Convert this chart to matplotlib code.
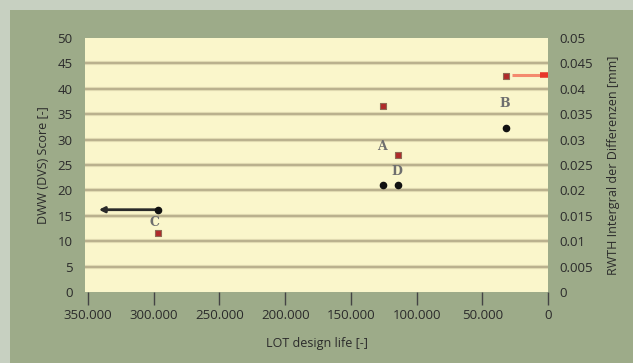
import matplotlib.pyplot as plt
from matplotlib.patches import Rectangle

# Data
red_x = [296700, 125200, 114100, 32000]
red_y = [11.6, 36.7, 26.9, 42.5]
black_x = [296700, 125200, 114100, 32000]
black_y = [16.1, 21.0, 21.0, 32.3]
label_text = ['C', 'A', 'D', 'B']
label_x = [299500, 126500, 114800, 33000]
label_y = [13.6, 28.7, 23.7, 37.2]
black_arrow = (296000, 343900, 16.2)
red_arrow = (27500, 0, 42.8)

x_ticks = [350000, 300000, 250000, 200000, 150000, 100000, 50000, 0]
x_tick_labels = ['350.000', '300.000', '250.000', '200.000', '150.000', '100.000', '50.000', '0']
y_ticks = [0, 5, 10, 15, 20, 25, 30, 35, 40, 45, 50]
y2_ticks = [0, 0.005, 0.01, 0.015, 0.02, 0.025, 0.03, 0.035, 0.04, 0.045, 0.05]
y2_tick_labels = ['0', '0.005', '0.01', '0.015', '0.02', '0.025', '0.03', '0.035', '0.04', '0.045', '0.05']

plt.rcParams['font.family'] = ['Open Sans', 'DejaVu Sans']
text_col = '#2b2b2b'

fig = plt.figure(figsize=(6.33, 3.63), dpi=100)
fig.patch.set_facecolor('#c7d0c1')
fig.patches.append(Rectangle((10 / 633, 0), 1, 1 - 10 / 363, transform=fig.transFigure,
                             facecolor='#9dab89', edgecolor='none', zorder=-5))

ax = fig.add_axes([85 / 633, 1 - 292 / 363, 463 / 633, 254 / 363])
ax.set_facecolor('#faf6cb')
ax.set_xlim(352300, 0)
ax.set_ylim(0, 50)

for y in y_ticks[1:-1]:
    ax.axhline(y, color='#c2b893', linewidth=3.0, alpha=0.45, zorder=1)
    ax.axhline(y, color='#b3a988', linewidth=1.2, zorder=1)

# arrows
ax.annotate('', xy=(black_arrow[1], black_arrow[2]), xytext=(black_arrow[0], black_arrow[2]),
            arrowprops=dict(arrowstyle='-|>', color='#2a2a2a', lw=2, mutation_scale=8), zorder=3)
ax.plot([red_arrow[0], 6000], [red_arrow[2], red_arrow[2]], color='#f48a6e', lw=2.2, zorder=3,
        solid_capstyle='butt')
ax.plot([6000, 0], [red_arrow[2], red_arrow[2]], color='#e8372a', lw=4, zorder=3,
        solid_capstyle='butt')

ax.scatter(red_x, red_y, marker='s', s=20, color='#b02a2a', edgecolor='#8f6a55', linewidth=0.8, zorder=4)
ax.scatter(black_x, black_y, marker='o', s=20, color='#111111', zorder=4)

for t, x, y in zip(label_text, label_x, label_y):
    ax.text(x, y, t, family='DejaVu Serif', fontweight='bold', fontsize=9, color='#6e6e6e',
            ha='center', va='center', zorder=4)

ax.set_xticks(x_ticks)
ax.set_xticklabels(x_tick_labels)
ax.set_yticks(y_ticks)
ax.tick_params(axis='x', length=9, width=1, color='#444444', pad=3, labelsize=9.5, labelcolor=text_col)
ax.tick_params(axis='y', length=0, pad=9, labelsize=9.5, labelcolor=text_col)
for s in ax.spines.values():
    s.set_visible(False)

ax.set_xlabel('LOT design life [-]', fontsize=9, color=text_col, labelpad=11)
ax.set_ylabel('DWW (DVS) Score [-]', fontsize=9, color=text_col, labelpad=5)

ax2 = ax.twinx()
ax2.set_ylim(0, 0.05)
ax2.set_yticks(y2_ticks)
ax2.set_yticklabels(y2_tick_labels)
ax2.tick_params(axis='y', length=0, pad=8, labelsize=9.5, labelcolor=text_col)
for s in ax2.spines.values():
    s.set_visible(False)
ax2.set_ylabel('RWTH Intergral der Differenzen [mm]', fontsize=9, color=text_col, labelpad=10)

fig.savefig('out.png', dpi=100, facecolor=fig.get_facecolor())
